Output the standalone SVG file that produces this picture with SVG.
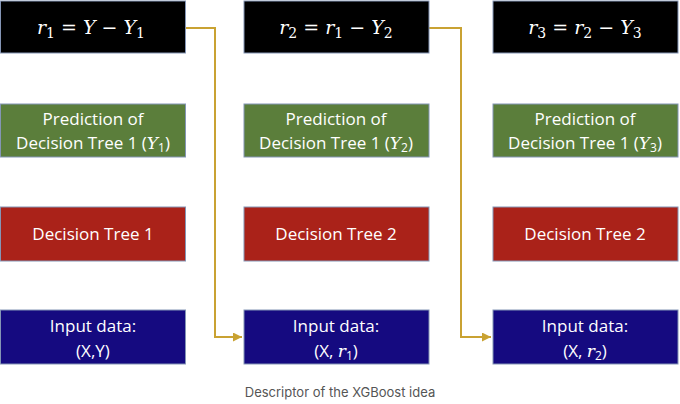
<svg xmlns="http://www.w3.org/2000/svg" width="680" height="404" viewBox="0 0 680 404">
<style>
.box{stroke:#8495b5;stroke-width:1}
.k{fill:#000}
.g{fill:#5b7e3b}
.r{fill:#aa2219}
.b{fill:#150a80}
text{fill:#fff;font-family:"Open Sans","Liberation Sans",sans-serif;font-size:17px;text-anchor:middle}
.f{font-family:"DejaVu Serif","Liberation Serif",serif;font-size:19px}
.m{font-family:"DejaVu Serif","Liberation Serif",serif;font-style:italic}
.s{font-family:"DejaVu Serif","Liberation Serif",serif;font-style:normal}
.cap{fill:#555;font-family:"Inter","Liberation Sans",sans-serif;font-size:13px}
.c{fill:none;stroke:#c9a232;stroke-width:2}
</style>
<defs>
<marker id="ah" viewBox="0 0 10 10" refX="10" refY="5" markerWidth="4.5" markerHeight="4.5" orient="auto" markerUnits="strokeWidth">
<path d="M0,0 L10,5 L0,10 z" fill="#c9a232"/>
</marker>
</defs>
<g id="connectors">
<path class="c" d="M185,28 H215 V337 H242" marker-end="url(#ah)"/>
<path class="c" d="M429,28 H461 V337 H491" marker-end="url(#ah)"/>
</g>
<g id="res1"><rect class="box k" x="0.5" y="1" width="185" height="52"/><text class="f" x="91" y="34"><tspan class="m">r</tspan><tspan font-size="14" dy="4">1</tspan><tspan dy="-4"> = </tspan><tspan class="m">Y</tspan> − <tspan class="m">Y</tspan><tspan font-size="14" dy="4">1</tspan></text></g>
<g id="res2"><rect class="box k" x="244" y="1" width="185" height="52"/><text class="f" x="336" y="34"><tspan class="m">r</tspan><tspan font-size="14" dy="4">2</tspan><tspan dy="-4"> = </tspan><tspan class="m">r</tspan><tspan font-size="14" dy="4">1</tspan><tspan dy="-4"> − </tspan><tspan class="m">Y</tspan><tspan font-size="14" dy="4">2</tspan></text></g>
<g id="res3"><rect class="box k" x="493" y="1" width="185" height="52"/><text class="f" x="585" y="34"><tspan class="m">r</tspan><tspan font-size="14" dy="4">3</tspan><tspan dy="-4"> = </tspan><tspan class="m">r</tspan><tspan font-size="14" dy="4">2</tspan><tspan dy="-4"> − </tspan><tspan class="m">Y</tspan><tspan font-size="14" dy="4">3</tspan></text></g>
<g id="pred1"><rect class="box g" x="0.5" y="104" width="185" height="53"/><text x="93" y="125">Prediction of</text><text x="93" y="149">Decision Tree 1 (<tspan class="m">Y</tspan><tspan font-size="12" dy="3">1</tspan><tspan dy="-3">)</tspan></text></g>
<g id="pred2"><rect class="box g" x="244" y="104" width="185" height="53"/><text x="336" y="125">Prediction of</text><text x="336" y="149">Decision Tree 1 (<tspan class="m">Y</tspan><tspan font-size="12" dy="3">2</tspan><tspan dy="-3">)</tspan></text></g>
<g id="pred3"><rect class="box g" x="493" y="104" width="185" height="53"/><text x="585" y="125">Prediction of</text><text x="585" y="149">Decision Tree 1 (<tspan class="m">Y</tspan><tspan font-size="12" dy="3">3</tspan><tspan dy="-3">)</tspan></text></g>
<g id="tree1"><rect class="box r" x="0.5" y="207" width="185" height="54"/><text x="93" y="240">Decision Tree 1</text></g>
<g id="tree2"><rect class="box r" x="244" y="207" width="185" height="54"/><text x="336" y="240">Decision Tree 2</text></g>
<g id="tree3"><rect class="box r" x="493" y="207" width="185" height="54"/><text x="585" y="240">Decision Tree 2</text></g>
<g id="input1"><rect class="box b" x="0.5" y="310" width="185" height="54"/><text x="93" y="332">Input data:</text><text x="93" y="357">(X,Y)</text></g>
<g id="input2"><rect class="box b" x="244" y="310" width="185" height="54"/><text x="336" y="332">Input data:</text><text x="336" y="357">(X, <tspan class="m">r</tspan><tspan font-size="12" dy="3">1</tspan><tspan dy="-3">)</tspan></text></g>
<g id="input3"><rect class="box b" x="493" y="310" width="185" height="54"/><text x="585" y="332">Input data:</text><text x="585" y="357">(X, <tspan class="m">r</tspan><tspan font-size="12" dy="3">2</tspan><tspan dy="-3">)</tspan></text></g>
<text class="cap" x="340" y="397">Descriptor of the XGBoost idea</text>
</svg>
